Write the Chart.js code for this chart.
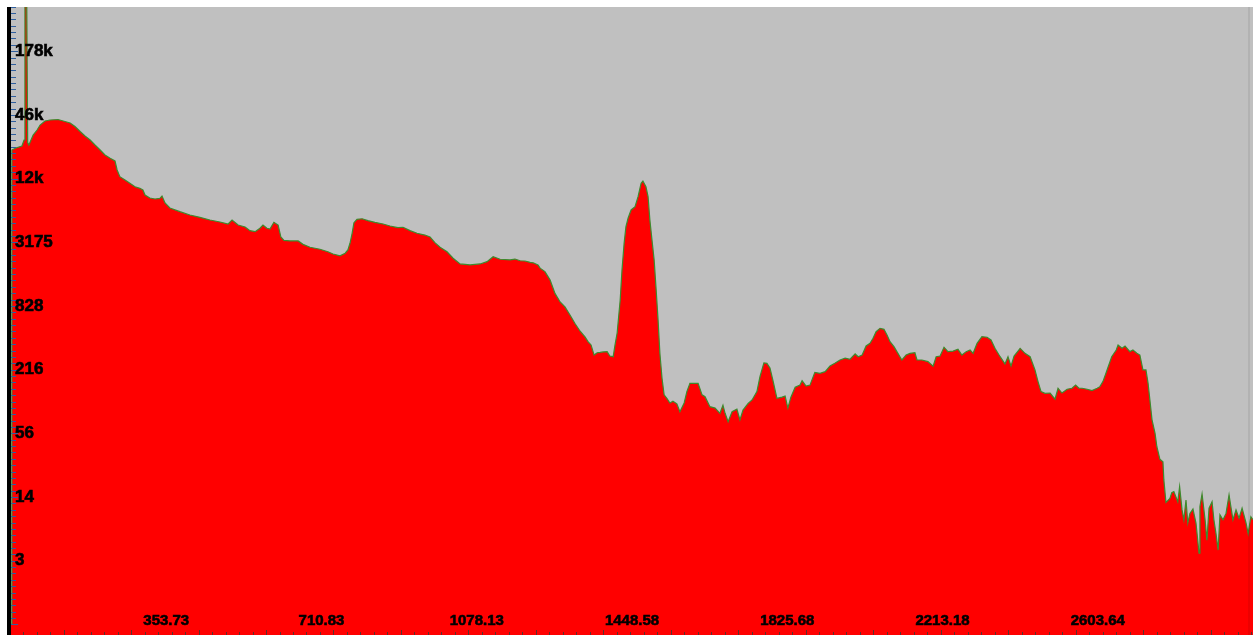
<!DOCTYPE html>
<html>
<head>
<meta charset="utf-8">
<script src="https://cdn.jsdelivr.net/npm/chart.js@4.4.1/dist/chart.umd.min.js"></script>
<style>
  html, body { margin: 0; padding: 0; background: #ffffff; }
  #wrap { position: relative; width: 1256px; height: 635px; }
  canvas { display: block; }
</style>
</head>
<body>
<div id="wrap"><canvas id="spec" width="1256" height="635"></canvas></div>
<script>
// Gamma spectrum: channel number vs. counts (log scale)
const channels = [
  0, 3, 16, 36, 43, 46, 52, 55, 59, 73, 86, 96, 112, 129, 155, 178, 195, 211, 228, 244,
  261, 277, 294, 310, 327, 343, 350, 359, 376, 392, 409, 425, 435, 442, 458, 475, 491, 498, 508, 524,
  557, 590, 623, 656, 689, 716, 729, 749, 772, 788, 805, 821, 831, 844, 854, 867, 881, 890, 900, 920,
  947, 963, 986, 1019, 1045, 1062, 1085, 1102, 1111, 1118, 1125, 1131, 1141, 1158, 1177, 1200, 1227, 1250, 1276, 1293,
  1316, 1339, 1365, 1382, 1398, 1415, 1438, 1458, 1481, 1514, 1547, 1570, 1590, 1613, 1646, 1662, 1679, 1695, 1712, 1722,
  1738, 1745, 1761, 1768, 1778, 1794, 1811, 1827, 1844, 1860, 1877, 1893, 1903, 1913, 1923, 1933, 1943, 1953, 1966, 1975,
  1986, 1992, 1999, 2009, 2015, 2022, 2028, 2035, 2045, 2058, 2068, 2078, 2084, 2094, 2101, 2107, 2114, 2121, 2127, 2134,
  2140, 2147, 2154, 2163, 2173, 2183, 2196, 2206, 2220, 2229, 2239, 2256, 2266, 2279, 2289, 2305, 2322, 2338, 2348, 2355,
  2365, 2378, 2394, 2404, 2414, 2431, 2444, 2460, 2470, 2483, 2493, 2503, 2513, 2526, 2543, 2553, 2562, 2572, 2586, 2602,
  2609, 2622, 2635, 2651, 2668, 2685, 2701, 2717, 2734, 2751, 2767, 2784, 2794, 2807, 2820, 2833, 2843, 2853, 2866, 2879,
  2889, 2899, 2912, 2925, 2938, 2952, 2965, 2981, 2988, 3004, 3024, 3041, 3051, 3064, 3077, 3090, 3107, 3123, 3136, 3150,
  3163, 3173, 3186, 3202, 3219, 3232, 3245, 3262, 3278, 3288, 3298, 3308, 3321, 3328, 3344, 3361, 3377, 3387, 3397, 3410,
  3427, 3443, 3453, 3466, 3483, 3499, 3511, 3522, 3532, 3549, 3565, 3582, 3591, 3601, 3611, 3630, 3645, 3651, 3664, 3674,
  3690, 3700, 3713, 3723, 3733, 3743, 3750, 3756, 3763, 3773, 3779, 3789, 3799, 3802, 3809, 3822, 3828, 3835, 3848, 3854,
  3862, 3868, 3875, 3881, 3888, 3898, 3908, 3918, 3921, 3928, 3938, 3944, 3951, 3961, 3967, 3974, 3981, 3987, 3997, 4007,
  4017, 4023, 4030, 4040, 4050, 4060, 4066, 4073, 4080, 4089, 4096
];

const counts = [
  1, 22260, 23220, 24230, 27490, 480000, 480000, 26000, 24740, 30540, 33940, 37710, 41030, 41910, 42350, 40600, 39340, 36540, 32880, 29900,
  27490, 24740, 22260, 20030, 18690, 17650, 14600, 12670, 11820, 11030, 10260, 9920, 9570, 8610, 8090, 7920, 8030, 8430, 7280, 6550,
  6060, 5650, 5380, 5080, 4870, 4670, 5080, 4570, 4390, 4060, 3970, 4270, 4570, 4270, 4200, 4840, 4570, 3550, 3310, 3270,
  3270, 3040, 2860, 2740, 2600, 2480, 2390, 2520, 2700, 3110, 3840, 4800, 5160, 5220, 5010, 4840, 4670, 4480, 4320, 4360,
  4060, 3840, 3700, 3550, 3150, 2860, 2600, 2270, 2010, 1970, 2010, 2110, 2340, 2220, 2190, 2230, 2150, 2140, 2080, 2060,
  1970, 1840, 1710, 1590, 1430, 1080, 902, 812, 682, 572, 486, 431, 390, 364, 294, 309, 311, 314, 316, 288,
  284, 364, 468, 935, 1770, 3110, 4410, 5270, 6280, 6730, 8310, 11030, 11570, 10260, 8310, 5080, 3310, 2190, 1244, 616,
  305, 180, 127, 118, 107, 111, 105, 89, 107, 136, 162, 162, 162, 127, 122, 99, 96, 86, 102, 86,
  72, 89, 94, 75, 92, 106, 114, 136, 186, 249, 247, 224, 171, 118, 121, 124, 96, 121, 149, 156,
  171, 153, 156, 204, 200, 207, 233, 247, 265, 275, 269, 301, 284, 294, 356, 377, 419, 481, 517, 506,
  449, 390, 351, 305, 265, 294, 305, 309, 265, 265, 256, 233, 284, 288, 346, 316, 320, 332, 294, 316,
  327, 305, 377, 433, 428, 404, 339, 284, 244, 284, 233, 288, 320, 339, 305, 284, 215, 168, 136, 131,
  132, 116, 146, 132, 143, 146, 156, 146, 146, 143, 139, 146, 151, 168, 200, 284, 327, 364, 339, 356,
  316, 327, 305, 294, 215, 215, 162, 114, 75, 56.4, 42.5, 32.6, 31, 21.1, 13.1, 14.3, 16.1, 16.5, 13.3, 18.3,
  11.2, 9.1, 13.8, 8.5, 10.4, 11.4, 8.5, 4.5, 12, 15.7, 9.1, 5.9, 11.6, 13.3, 9.1, 6.8, 4.8, 10.1, 9.1, 10.4,
  15.4, 12, 9.1, 11.2, 9.4, 11.6, 10.1, 8.5, 6.8, 9.7, 9.1
];

// Energy calibration labels (keV) placed at channel positions
const energyTickChannels = [512, 1024, 1536, 2048, 2560, 3072, 3584];
const energyTickLabels = ['353.73', '710.83', '1078.13', '1448.58', '1825.68', '2213.18', '2603.64'];

// Count axis labels (log spaced)
const countTickValues = [3.834, 14.7, 56.35, 216, 828, 3175, 12173, 46671, 178937];
const countTickLabels = ['3', '14', '56', '216', '828', '3175', '12k', '46k', '178k'];

const FONT = "'Liberation Sans', Arial, sans-serif";

// Background panel, frame bar, tick marks and energy labels
const panel = {
  id: 'panel',
  beforeDraw(chart) {
    const { ctx, chartArea: a } = chart;
    ctx.save();
    ctx.fillStyle = '#ffffff';
    ctx.fillRect(0, 0, chart.width, chart.height);
    ctx.fillStyle = '#c0c0c0';
    ctx.fillRect(a.left, a.top, a.right - a.left, a.bottom - a.top);
    ctx.restore();
  },
  afterDatasetsDraw(chart) {
    const { ctx, chartArea: a, scales } = chart;
    const ys = scales.y, xs = scales.x;
    ctx.save();
    // cursor strip near the right edge
    ctx.fillStyle = 'rgba(0,0,0,0.07)';
    ctx.fillRect(a.right - 5, a.top, 2, a.bottom - a.top);

    // minor ticks on the count axis (10 per labelled step)
    ctx.strokeStyle = '#2f5f9f';
    ctx.lineWidth = 1;
    const step = countTickValues[1] / countTickValues[0];
    const first = countTickValues[0] / step;
    for (let k = 0; k < countTickValues.length + 2; k++) {
      const base = first * Math.pow(step, k);
      for (let j = 0; j < 10; j++) {
        const v = base * Math.pow(step, j / 10);
        const py = Math.round(ys.getPixelForValue(v)) + 0.5;
        if (py < a.top || py > a.bottom) continue;
        const len = j === 0 ? 7 : 5;
        ctx.beginPath();
        ctx.moveTo(a.left, py);
        ctx.lineTo(a.left + len, py);
        ctx.stroke();
      }
    }

    // minor ticks along the bottom
    ctx.strokeStyle = '#5a3030';
    for (let c = 40, n = 0; c < 4096; c += 44.5, n++) {
      const px = Math.round(xs.getPixelForValue(c)) + 0.5;
      const len = n % 5 === 3 ? 5 : 3;
      ctx.beginPath();
      ctx.moveTo(px, a.bottom);
      ctx.lineTo(px, a.bottom - len);
      ctx.stroke();
    }

    // energy labels inside the plot, just above the bottom edge
    ctx.fillStyle = '#000000';
    ctx.strokeStyle = '#000000';
    ctx.lineWidth = 0.6;
    ctx.font = 'bold 15px ' + FONT;
    ctx.textAlign = 'center';
    ctx.textBaseline = 'middle';
    energyTickChannels.forEach((c, i) => {
      const px = xs.getPixelForValue(c);
      ctx.fillText(energyTickLabels[i], px, a.bottom - 14);
      ctx.strokeText(energyTickLabels[i], px, a.bottom - 14);
    });

    // dark frame bar on the left
    ctx.fillStyle = '#000000';
    ctx.fillRect(a.left - 4, a.top, 4, a.bottom - a.top);
    ctx.restore();
  }
};

new Chart(document.getElementById('spec').getContext('2d'), {
  type: 'line',
  data: {
    datasets: [{
      data: channels.map((c, i) => ({ x: c, y: counts[i] })),
      borderColor: '#3d8b2d',
      borderWidth: 1.2,
      backgroundColor: '#ff0000',
      fill: 'start',
      pointRadius: 0,
      tension: 0
    }]
  },
  options: {
    responsive: false,
    animation: false,
    events: [],
    layout: { padding: { left: 11, top: 7, right: 3, bottom: 0 } },
    plugins: { legend: { display: false }, tooltip: { enabled: false } },
    scales: {
      x: {
        type: 'linear',
        position: 'bottom',
        min: 0,
        max: 4096,
        afterFit(s) { s.height = 0; s.paddingLeft = 0; s.paddingRight = 0; },
        afterBuildTicks(s) { s.ticks = energyTickChannels.map(v => ({ value: v })); },
        grid: { display: false, drawTicks: false },
        border: { display: false },
        ticks: { display: false }
      },
      y: {
        type: 'logarithmic',
        position: 'left',
        min: 0.8,
        max: 455000,
        afterFit(s) { s.width = 0; s.paddingTop = 0; s.paddingBottom = 0; },
        afterBuildTicks(s) { s.ticks = countTickValues.map(v => ({ value: v })); },
        grid: { display: false, drawTicks: false },
        border: { display: false },
        ticks: {
          z: 1,
          mirror: true,
          padding: 4,
          autoSkip: false,
          color: '#000000',
          textStrokeColor: '#000000',
          textStrokeWidth: 0.6,
          font: { family: FONT, size: 17, weight: 'bold' },
          callback(v, i) { return countTickLabels[i]; }
        }
      }
    }
  },
  plugins: [panel]
});
</script>
</body>
</html>
